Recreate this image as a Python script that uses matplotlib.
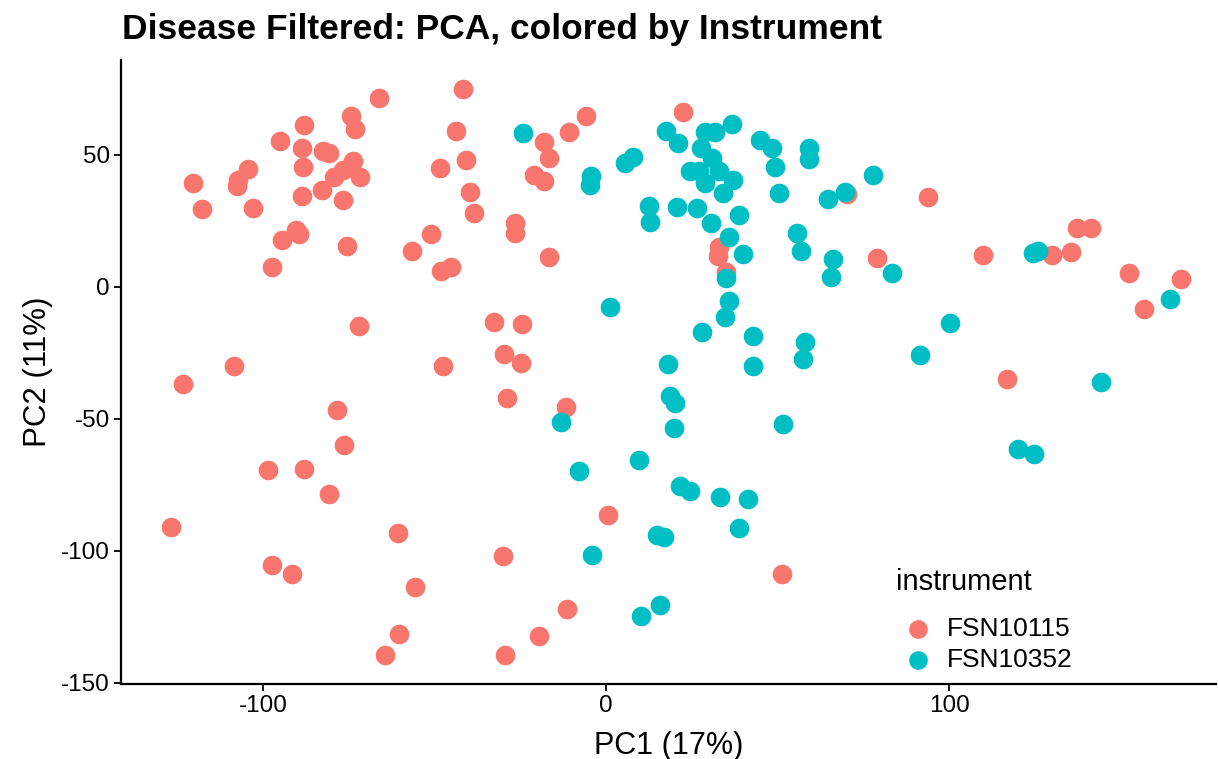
import numpy as np
import matplotlib
matplotlib.use("Agg")
import matplotlib.pyplot as plt

plt.rcParams['font.family'] = ['Liberation Sans', 'DejaVu Sans']
plt.rcParams['axes.unicode_minus'] = False

# PCA coordinates
fsn10115_pc1 = [-74.3, -73.2, -66.2, -41.7, -88.0, -95.0, -88.6, -82.5, -80.8, -88.3,
                -73.8, -76.7, -79.3, -71.7, -104.4, -107.3, -107.6, -120.4, -117.8, -102.9,
                -88.6, -82.8, -76.7, -90.4, -89.5, -94.5, -75.5, -97.4, -56.6, -43.7,
                -40.8, -48.4, -39.7, -38.5, -51.0, -48.1, -45.2, -26.5, -26.5, -16.6,
                -18.1, -16.6, -21.0, -18.1, -10.8, -5.8, 22.4, 32.9, 32.7, 35.0,
                70.3, 79.0, 93.9, 109.9, 130.0, 135.6, 137.3, 141.4, 152.5, 167.6,
                156.9, 116.9, 51.3, -72.0, -108.5, -123.3, -78.4, -76.4, -98.5, -88.0,
                -80.8, -126.8, -60.6, -97.4, -91.5, -55.7, -60.3, -64.4, -32.7, -24.5,
                -29.7, -24.8, -28.9, -47.5, -11.7, 0.6, -30.0, -11.4, -19.5, -29.4]
fsn10115_pc2 = [64.8, 59.8, 71.6, 75.0, 61.4, 55.3, 52.7, 51.5, 50.8, 45.5,
                47.7, 44.3, 41.7, 41.7, 44.7, 40.5, 38.3, 39.4, 29.5, 29.9,
                34.5, 36.7, 33.0, 21.6, 20.1, 17.8, 15.5, 7.6, 13.6, 59.1,
                48.1, 45.1, 36.0, 28.0, 20.1, 6.1, 7.6, 24.2, 20.5, 11.4,
                54.9, 48.9, 42.4, 40.2, 58.7, 64.8, 66.3, 15.2, 11.7, 5.7,
                35.2, 11.0, 34.1, 12.1, 12.1, 13.3, 22.3, 22.3, 5.3, 3.0,
                -8.3, -34.8, -108.7, -14.8, -29.9, -36.7, -46.6, -59.8, -69.3, -68.9,
                -78.4, -90.9, -93.2, -105.3, -108.7, -113.6, -131.4, -139.4, -13.3, -14.0,
                -25.4, -28.8, -42.0, -29.9, -45.5, -86.4, -101.9, -122.0, -132.2, -139.4]

fsn10352_pc1 = [-24.2, -4.4, -4.7, 5.5, 7.9, 12.5, 12.8, 17.5, 21.0, 28.9,
                31.8, 36.7, 27.7, 30.9, 24.5, 27.1, 32.9, 37.0, 28.9, 34.1,
                44.9, 48.4, 49.3, 50.4, 59.2, 59.2, 77.8, 69.7, 64.7, 20.7,
                26.5, 30.6, 38.8, 35.9, 39.9, 35.0, 35.9, 34.7, 55.7, 56.9,
                66.2, 65.6, 28.0, 42.9, 42.9, 58.0, 57.4, 51.6, 18.1, 18.7,
                20.1, 19.8, 1.2, -13.1, -7.9, 9.6, 21.6, 24.5, 33.2, 41.4,
                38.8, -4.1, 14.9, 16.9, 15.7, 10.2, 83.4, 100.3, 91.5, 124.5,
                125.9, 144.3, 164.4, 120.1, 124.8]
fsn10352_pc2 = [58.3, 42.0, 38.6, 47.0, 49.2, 30.7, 24.6, 59.1, 54.5, 58.7,
                58.7, 61.7, 52.7, 48.9, 43.9, 43.9, 43.9, 40.5, 39.4, 35.6,
                55.7, 52.7, 45.5, 35.6, 52.7, 48.5, 42.4, 36.0, 33.3, 30.3,
                29.9, 24.2, 27.3, 18.9, 12.5, 3.4, -5.3, -11.4, 20.5, 13.6,
                10.6, 3.8, -17.0, -18.6, -29.9, -20.8, -27.3, -51.9, -29.2, -41.3,
                -43.9, -53.4, -7.6, -51.1, -69.7, -65.5, -75.4, -77.3, -79.5, -80.3,
                -91.3, -101.5, -93.9, -94.7, -120.5, -124.6, 5.3, -13.6, -25.8, 12.9,
                13.6, -36.0, -4.5, -61.4, -63.3]

fig = plt.figure(figsize=(12.18, 7.59), dpi=100)
ax = fig.add_axes([121 / 1218, 1 - 684 / 759, (1216 - 121) / 1218, (684 - 60) / 759])

ax.scatter(fsn10115_pc1, fsn10115_pc2, s=200, color='#F8766D', linewidths=0, label='FSN10115')
ax.scatter(fsn10352_pc1, fsn10352_pc2, s=200, color='#00BFC4', linewidths=0, label='FSN10352')

ax.set_xlim(-141.4, 177.8)
ax.set_ylim(-150.5, 86)
ax.set_xticks([-100, 0, 100])
ax.set_yticks([-150, -100, -50, 0, 50])

for side in ['top', 'right']:
    ax.spines[side].set_visible(False)
for side in ['left', 'bottom']:
    ax.spines[side].set_linewidth(1.6)
ax.tick_params(axis='both', length=5, width=1.3, labelsize=17.5, colors='black', pad=3)

ax.set_xlabel('PC1 (17%)', fontsize=22, labelpad=10)
ax.set_ylabel('PC2 (11%)', fontsize=22.5, labelpad=6)
fig.text(122 / 1218, 1 - 30 / 759, 'Disease Filtered: PCA, colored by Instrument',
         fontsize=25.5, fontweight='bold', va='center', ha='left')

leg = ax.legend(title='instrument', loc='upper left',
                bbox_to_anchor=(878 / 1218, 1 - 550 / 759), bbox_transform=fig.transFigure,
                frameon=False, fontsize=19, title_fontsize=21, markerscale=0.95,
                handletextpad=0.3, labelspacing=0.25, borderpad=0.2, handlelength=1.6)
leg._legend_box.align = 'left'
leg._legend_box.sep = 15

fig.savefig('out.png', dpi=100)
